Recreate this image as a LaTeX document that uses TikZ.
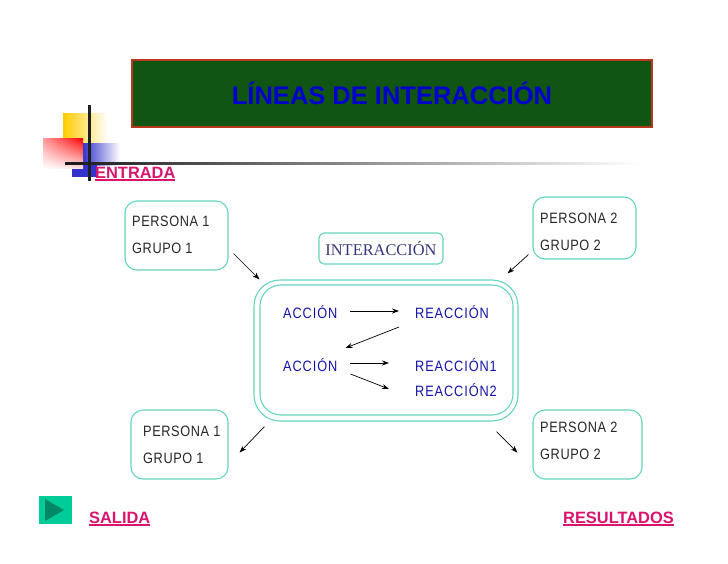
\documentclass[tikz,border=0pt]{standalone}
\usepackage{fontspec}
\setmainfont{Liberation Sans}
\newfontfamily\serifface{Liberation Serif}
\newfontfamily\slimface[FakeStretch=0.85]{Liberation Sans}
\usetikzlibrary{arrows.meta,shadings}

\definecolor{boxteal}{RGB}{100,212,190}
\definecolor{titlegreen}{RGB}{17,85,21}
\definecolor{titleedge}{RGB}{185,55,30}
\definecolor{titleblue}{RGB}{0,0,205}
\definecolor{linkpink}{RGB}{218,20,110}
\definecolor{wordblue}{RGB}{20,20,170}
\definecolor{interblue}{RGB}{55,55,125}
\definecolor{decoyellow}{RGB}{255,204,0}
\definecolor{decoblue}{RGB}{51,51,204}
\definecolor{btnteal}{RGB}{0,204,153}
\definecolor{btndark}{RGB}{0,135,100}

\newcommand{\ulbar}[1]{\vtop{\hbox{#1}\kern0.6pt\hrule height 1.4pt}}

\tikzset{
  >={Stealth[length=7pt,width=5pt]},
  persbox/.style={draw=boxteal, line width=1.1pt, rounded corners=12pt, inner sep=0pt},
  persword/.style={anchor=west, inner sep=0pt, align=left, text=black!85,
    font=\slimface\fontsize{15}{27}\selectfont\addfontfeatures{LetterSpace=4}},
  actword/.style={anchor=west, inner sep=0pt, text=wordblue,
    font=\slimface\fontsize{15}{16}\selectfont\addfontfeatures{LetterSpace=6}},
  linkword/.style={anchor=west, inner sep=0pt, text=linkpink,
    font=\fontsize{16.4}{18}\selectfont\bfseries},
  link/.style={->, line width=0.7pt},
}

\begin{document}
\begin{tikzpicture}[x=1pt, y=-1pt]
  \useasboundingbox (0,0) rectangle (728,563);

  % corner decoration
  \shade [left color=decoyellow, middle color=decoyellow, right color=white] (63,113) rectangle (108,150);
  \shade [left color=decoblue, middle color=decoblue, right color=white] (83,143) rectangle (120,165);
  \fill [decoblue] (72,165) rectangle (97,177);
  \shade [shading=bilinear interpolation, upper left=red!40!white, upper right=red, lower left=white, lower right=red!12!white] (43,138) rectangle (83,168);
  \shade [left color=black!90, middle color=black!15, right color=white] (65,162) rectangle (640,164.5);
  \fill [black!88] (88,105) rectangle (90.5,181);

  % title
  \node [draw=titleedge, line width=1.2pt, fill=titlegreen, minimum width=520pt, minimum height=67pt, inner sep=0pt,
    text=titleblue, font=\fontsize{25.5}{28}\selectfont\bfseries] (title) at (392,93.5) {\raisebox{1.5pt}{LÍNEAS DE INTERACCIÓN}};

  \node [linkword] (entrada) at (95,174) {\ulbar{ENTRADA}};
  \node [linkword] (salida) at (89,519) {\ulbar{SALIDA}};
  \node [linkword] (resultados) at (563,519) {\ulbar{RESULTADOS}};

  % button
  \node [fill=btnteal, minimum width=33pt, minimum height=28pt, inner sep=0pt] (btn) at (55.5,510) {};
  \fill [btndark] (45,499) -- (64,510) -- (45,521) -- cycle;

  % people
  \node [persbox, minimum width=103pt, minimum height=69pt] (boxa) at (176.5,235.5) {};
  \node [persbox, minimum width=103pt, minimum height=62pt] (boxb) at (584.5,228) {};
  \node [persbox, minimum width=97pt, minimum height=69pt] (boxc) at (179.5,444.5) {};
  \node [persbox, minimum width=109pt, minimum height=69pt] (boxd) at (587.5,444.5) {};

  \node [persword] (wa) at (132,235) {PERSONA 1\\GRUPO 1};
  \node [persword] (wb) at (540,232) {PERSONA 2\\GRUPO 2};
  \node [persword] (wc) at (143,445) {PERSONA 1\\GRUPO 1};
  \node [persword] (wd) at (540,441) {PERSONA 2\\GRUPO 2};

  % centre
  \node [persbox, rounded corners=5pt, minimum width=124pt, minimum height=31pt, text=interblue,
    font=\serifface\fontsize{16.4}{18}\selectfont] (inter) at (381,248.5) {INTERACCIÓN};
  \node [persbox, rounded corners=26pt, minimum width=264pt, minimum height=141pt] (outer) at (386,350.5) {};
  \node [persbox, rounded corners=21pt, minimum width=253pt, minimum height=130pt] (inner) at (386.5,350) {};

  \node [actword] (acc1) at (283,312) {ACCIÓN};
  \node [actword] (rea1) at (415,312) {REACCIÓN};
  \node [actword] (acc2) at (283,365) {ACCIÓN};
  \node [actword] (rea2) at (415,365) {REACCIÓN1};
  \node [actword] (rea3) at (415,390) {REACCIÓN2};

  \draw [link] ([shift={(13,-1)}]acc1.east) -- ([shift={(-16,-1)}]rea1.west);
  \draw [link] ([shift={(-16,15)}]rea1.west) -- ([shift={(8,-17)}]acc2.east);
  \draw [link] ([shift={(13,-2)}]acc2.east) -- ([shift={(-26,-2)}]rea2.west);
  \draw [link] ([shift={(13,9)}]acc2.east) -- ([shift={(-26,-1)}]rea3.west);

  \draw [link] ([shift={(5,-17)}]boxa.south east) -- ([shift={(6,0)}]outer.north west);
  \draw [link] ([shift={(-4,-5)}]boxb.south west) -- ([shift={(-11,-6)}]outer.north east);
  \draw [link] ([shift={(11,5)}]outer.south west) -- ([shift={(11,-27)}]boxc.south east);
  \draw [link] ([shift={(-22,10)}]outer.south east) -- ([shift={(-15,-27)}]boxd.south west);
\end{tikzpicture}
\end{document}
